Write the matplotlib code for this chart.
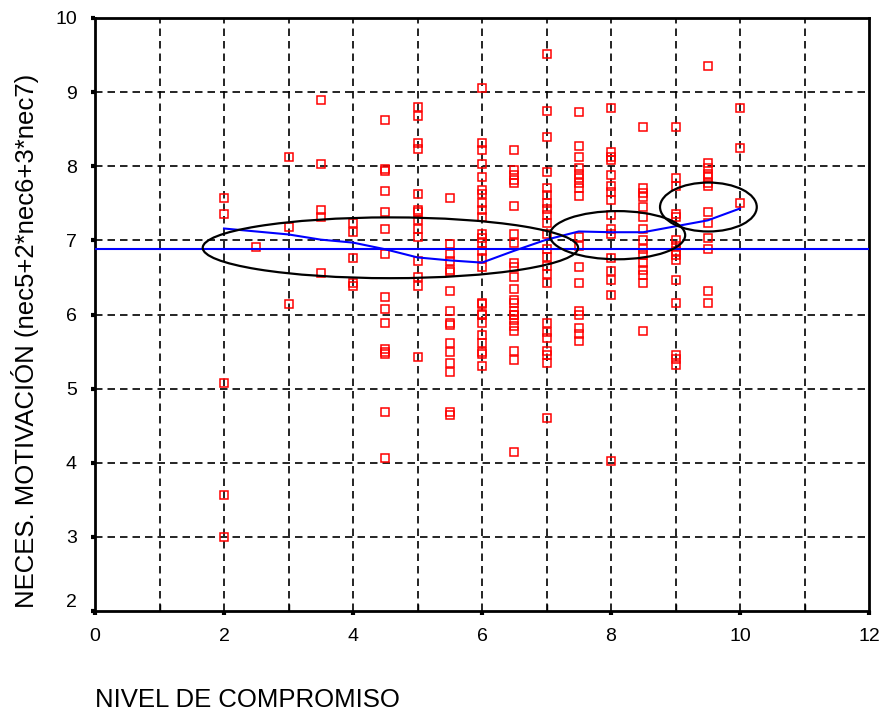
import matplotlib
matplotlib.use('Agg')
import matplotlib.pyplot as plt
from matplotlib.patches import Ellipse

plt.rcParams['font.family'] = ['Liberation Sans', 'DejaVu Sans']

# compromise levels and the motivation scores observed at each level
niveles = [2, 2.5, 3, 3.5, 4, 4.5, 5, 5.5, 6, 6.5, 7, 7.5, 8, 8.5, 9, 9.5, 10]
valores = [
    [7.57, 7.35, 5.07, 3.57, 3.0],
    [6.91],
    [8.13, 7.18, 6.14],
    [8.89, 8.03, 7.41, 7.31, 6.56],
    [7.24, 7.11, 6.76, 6.42, 6.38],
    [8.62, 7.96, 7.93, 7.66, 7.38, 7.16, 6.81, 6.24, 6.08, 5.89, 5.54, 5.50, 5.47, 4.69, 4.07],
    [8.80, 8.68, 8.31, 8.23, 7.62, 7.41, 7.38, 7.28, 7.16, 7.04, 6.72, 6.51, 6.38, 5.42],
    [7.57, 6.95, 6.82, 6.72, 6.60, 6.57, 6.32, 6.05, 5.89, 5.86, 5.62, 5.50, 5.34, 5.23, 4.68, 4.65],
    [9.05, 8.32, 8.22, 8.03, 7.86, 7.68, 7.63, 7.50, 7.41, 7.31, 7.09, 7.03, 6.96, 6.86, 6.76, 6.64,
     6.16, 6.14, 6.01, 6.00, 5.89, 5.73, 5.61, 5.50, 5.47, 5.30],
    [8.22, 7.95, 7.88, 7.81, 7.77, 7.46, 7.09, 6.96, 6.70, 6.64, 6.51, 6.34, 6.20, 6.16, 6.05, 6.00,
     5.99, 5.92, 5.85, 5.78, 5.51, 5.39, 4.15],
    [9.51, 8.74, 8.39, 7.92, 7.70, 7.61, 7.51, 7.43, 7.34, 7.24, 7.09, 6.89, 6.77, 6.66, 6.55, 6.42,
     5.88, 5.76, 5.68, 5.51, 5.45, 5.34, 4.60],
    [8.73, 8.27, 8.12, 7.97, 7.90, 7.84, 7.77, 7.70, 7.60, 7.04, 6.93, 6.64, 6.42, 6.05, 6.00, 5.82,
     5.74, 5.64],
    [8.78, 8.19, 8.12, 8.08, 7.88, 7.74, 7.65, 7.54, 7.34, 7.16, 7.09, 6.76, 6.59, 6.46, 6.26, 4.02],
    [8.53, 7.70, 7.64, 7.58, 7.45, 7.31, 7.16, 7.00, 6.89, 6.80, 6.70, 6.60, 6.53, 6.42, 5.78],
    [8.53, 7.84, 7.74, 7.36, 7.31, 7.00, 6.93, 6.86, 6.80, 6.73, 6.46, 6.16, 5.45, 5.40, 5.32],
    [9.35, 8.04, 7.97, 7.90, 7.85, 7.78, 7.73, 7.38, 7.24, 7.03, 6.88, 6.32, 6.16],
    [8.78, 8.24, 7.51],
]

# smoothed fit line
ajuste_x = [2, 2.5, 3, 3.5, 4, 4.5, 5, 5.5, 6, 6.5, 7, 7.5, 8, 8.5, 9, 9.5, 10]
ajuste_y = [7.16, 7.12, 7.08, 7.01, 6.97, 6.88, 6.77, 6.73, 6.70, 6.86, 7.01, 7.12, 7.11, 7.11, 7.19, 7.27, 7.43]

media = 6.89

# highlighted groups: center x, center y, width, height
elipses = [
    (4.58, 6.90, 5.82, 0.82),
    (8.10, 7.07, 2.10, 0.65),
    (9.51, 7.45, 1.50, 0.66),
]

xticks = [0, 2, 4, 6, 8, 10, 12]
yticks = [2, 3, 4, 5, 6, 7, 8, 9, 10]

xs = []
ys = []
for n, vals in zip(niveles, valores):
    for v in vals:
        xs.append(n)
        ys.append(v)

fig = plt.figure(figsize=(8.84, 7.15), dpi=100)
ax = fig.add_axes([95 / 884, 1 - 611 / 715, 774 / 884, 593 / 715])

ax.set_xlim(0, 12)
ax.set_ylim(2, 10)

# grid at every integer
for gx in range(1, 12):
    ax.axvline(gx, color='black', lw=1.2, linestyle=(0, (4.5, 3)), zorder=1)
for gy in range(3, 10):
    ax.axhline(gy, color='black', lw=1.2, linestyle=(0, (4.5, 3)), zorder=1)

ax.plot(xs, ys, linestyle='none', marker='s', markersize=6.3, markerfacecolor='none',
        markeredgecolor='red', markeredgewidth=1.1, zorder=3)

ax.axhline(media, color='blue', lw=1.5, zorder=4)
ax.plot(ajuste_x, ajuste_y, color='blue', lw=1.5, zorder=4)

for cx, cy, w, h in elipses:
    ax.add_patch(Ellipse((cx, cy), w, h, fill=False, edgecolor='black', lw=1.6, zorder=5))

ax.set_xticks(xticks)
ax.set_xticks(range(1, 12, 2), minor=True)
ax.set_yticks(yticks)
ax.tick_params(axis='both', which='major', length=3, width=3, color='black',
               labelsize=14, direction='out')
ax.tick_params(axis='x', which='major', pad=9)
ax.tick_params(axis='y', which='major', pad=10)
ax.tick_params(axis='x', which='minor', length=5, width=1, direction='in')

for sp in ax.spines.values():
    sp.set_linewidth(2)
    sp.set_color('black')

# bottom y label sits a little above its tick
ax.get_yticklabels()[0].set_verticalalignment('bottom')

fig.text(25 / 884, 1 - 341 / 715, 'NECES. MOTIVACIÓN (nec5+2*nec6+3*nec7)',
         rotation=90, ha='center', va='center', fontsize=18.5)
fig.text(95 / 884, 1 - 700 / 715, 'NIVEL DE COMPROMISO', ha='left', va='center', fontsize=18.5)

fig.savefig('out.png', dpi=100)
